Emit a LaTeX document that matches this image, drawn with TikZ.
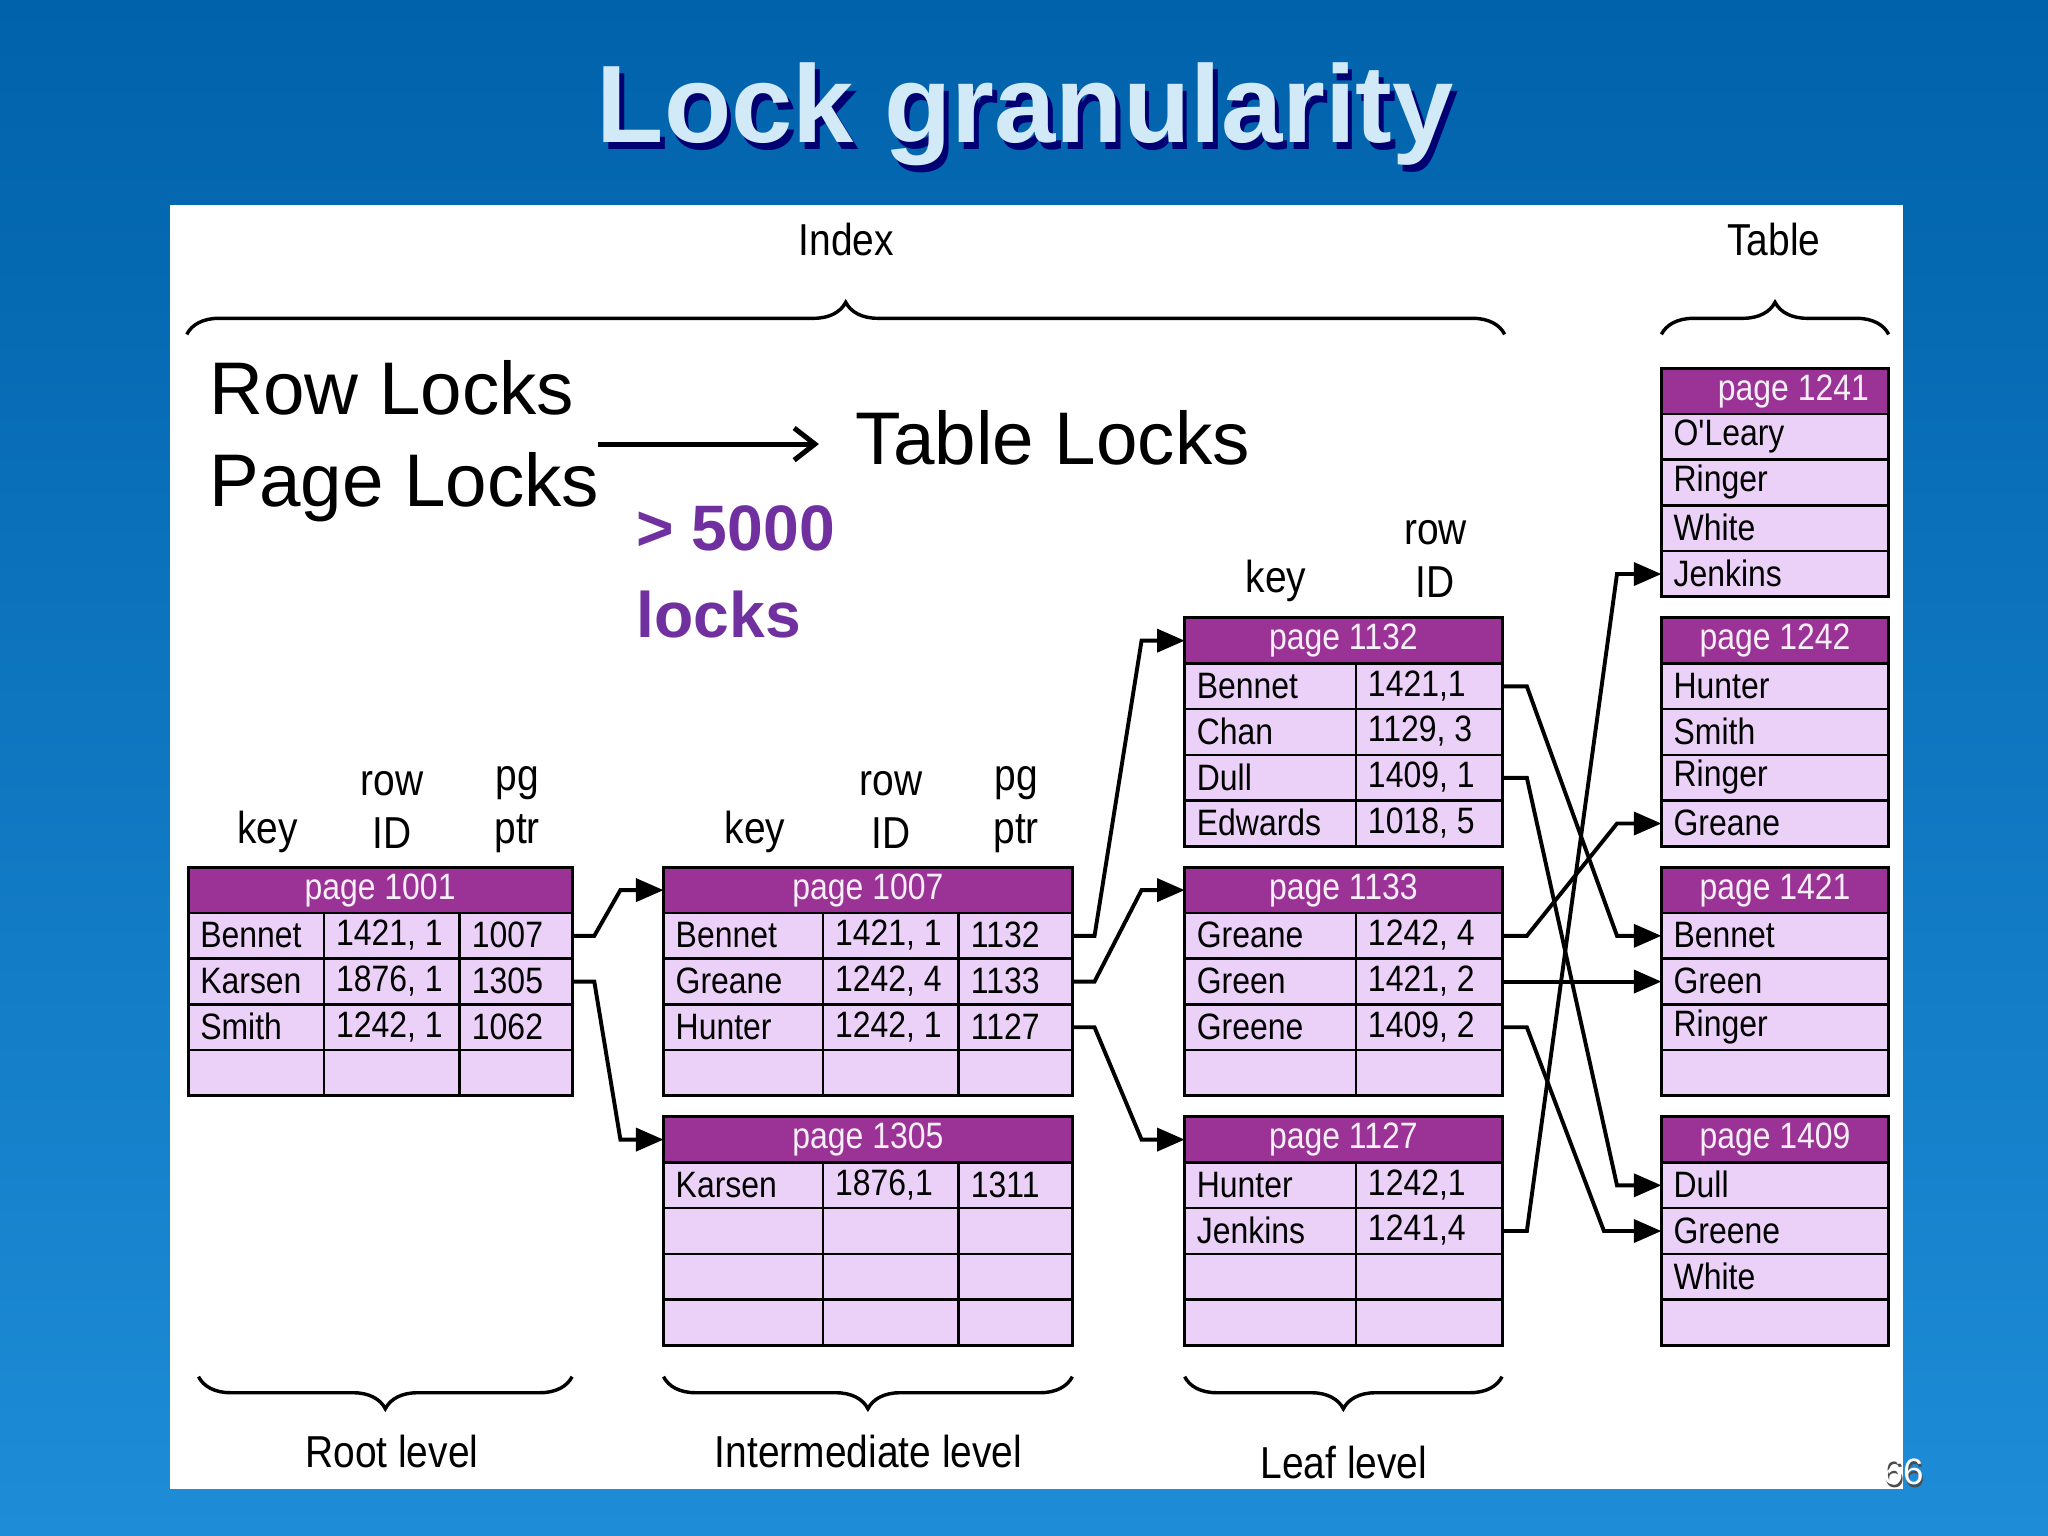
\documentclass[tikz,border=0pt]{standalone}
\usepackage{fontspec}
\setmainfont{Liberation Sans}
\newfontfamily\narrow[FakeStretch=0.87]{Liberation Sans}
\usetikzlibrary{arrows.meta,decorations.pathreplacing,calc}
\definecolor{headc}{HTML}{9B3396}
\definecolor{cellc}{HTML}{EBD0F7}
\definecolor{purp}{HTML}{7030A0}
\definecolor{titlec}{HTML}{D2EAF8}
\tikzset{
  ct/.style={font=\narrow\fontsize{16}{18}\selectfont, anchor=west, inner sep=0pt},
  lab/.style={font=\narrow\fontsize{19.5}{23}\selectfont, align=center, inner sep=0pt},
  ht/.style={font=\narrow\fontsize{16}{18}\selectfont, text=white!92!headc, inner sep=0pt},
  conn/.style={line width=1.7pt, -{Triangle[length=12pt,width=10pt]}},
  brc/.style={line width=1.5pt, decorate, decoration={brace, amplitude=14pt}},
  big/.style={font=\fontsize{32.5}{36}\selectfont, anchor=west, inner sep=0pt},
}
\newcommand\ptab[7]{% name x0 x1 innercols ytop nrows title
  \fill[cellc] (#2,#5+35) rectangle (#3,#5+35+35*#6);
  \fill[headc] (#2,#5) rectangle (#3,#5+35);
  \node[ht] (#1-t) at ({(#2+#3)/2},#5+17.5) {#7};
  \foreach \i in {1,...,#6}{
    \draw[line width=1.1pt] (#2,#5+35*\i) -- (#3,#5+35*\i);
    \coordinate (#1-l\i) at (#2,#5+17.5+35*\i);
    \coordinate (#1-r\i) at (#3,#5+17.5+35*\i);}
  \foreach \c in {#4} \draw[line width=1.1pt] (\c,#5+35) -- (\c,#5+35+35*#6);
  \draw[line width=1.3pt] (#2,#5) rectangle (#3,#5+35+35*#6);
  \coordinate (#1-h) at (#2,#5+17.5);
}
\newcommand\cel[3]{\node[ct] at (#1+9,#2) {#3};}
\begin{document}
\begin{tikzpicture}[x=0.02cm,y=-0.02cm]
\useasboundingbox (0,0) rectangle (1568,1176);
\shade[top color={rgb,255:red,0;green,98;blue,170}, bottom color={rgb,255:red,30;green,140;blue,215}] (0,0) rectangle (1568,1176);
\fill[white] (130,157) rectangle (1457,1140);
% title (shadow drawn as a copy behind)
\node (title) [font=\bfseries\fontsize{48}{52}\selectfont, text=titlec,
  preaction={}] at (785,90) {\makebox[0pt]{\hspace*{4pt}\raisebox{-3pt}{\textcolor{black!55!blue}{Lock granularity}}}\makebox[0pt]{Lock granularity}};
\node (pn) [font=\fontsize{16}{18}\selectfont, text=white] at (1457,1128) {\makebox[0pt]{\hspace*{1pt}\raisebox{-1pt}{\textcolor{black!70}{66}}}\makebox[0pt]{66}};
% braces
\node (idx) [lab] at (648,183) {Index};
\node (tab) [lab] at (1358,183) {Table};
\draw[brc] (143,256) -- (1152,256);
\draw[brc] (1272,256) -- (1446,256);
\draw[brc] (438,1054) -- (152,1054);
\draw[brc] (821,1054) -- (508,1054);
\draw[brc] (1150,1054) -- (907,1054);
\node (rl) [lab] at (300,1111) {Root level};
\node (il) [lab] at (665,1111) {Intermediate level};
\node (ll) [lab] at (1029,1120) {Leaf level};
% big text
\node (rowl) [big] at (160,297) {Row Locks};
\node (pagel) [big] at (160,373) {Page Locks};
\node (tabl) [big] at (655,335) {Table Locks};
\draw[line width=2.2pt, -{Straight Barb[length=9pt,width=14pt]}] (458,340) -- (627,340);
\node (k5) [font=\bfseries\fontsize{28}{36}\selectfont, text=purp, anchor=west, align=left, inner sep=0pt] at (487,438) {> 5000\\[2pt]locks};
% column labels
\node[lab] at (205,637) {key};
\node[lab] at (300,620) {row\\ID};
\node[lab] at (396,620) {pg\\ptr};
\node[lab] at (578,637) {key};
\node[lab] at (682,620) {row\\ID};
\node[lab] at (778,620) {pg\\ptr};
\node[lab] at (977,445) {key};
\node[lab] at (1099,428) {row\\ID};
% tables
\ptab{p1001}{144}{438}{248,352}{664}{4}{page 1001}
\cel{144}{716}{Bennet}\cel{248}{716}{1421, 1}\cel{352}{716}{1007}
\cel{144}{751}{Karsen}\cel{248}{751}{1876, 1}\cel{352}{751}{1305}
\cel{144}{786}{Smith}\cel{248}{786}{1242, 1}\cel{352}{786}{1062}
\ptab{p1007}{508}{821}{630,734}{664}{4}{page 1007}
\cel{508}{716}{Bennet}\cel{630}{716}{1421, 1}\cel{734}{716}{1132}
\cel{508}{751}{Greane}\cel{630}{751}{1242, 4}\cel{734}{751}{1133}
\cel{508}{786}{Hunter}\cel{630}{786}{1242, 1}\cel{734}{786}{1127}
\ptab{p1305}{508}{821}{630,734}{855}{4}{page 1305}
\cel{508}{907}{Karsen}\cel{630}{907}{1876,1}\cel{734}{907}{1311}
\ptab{p1132}{907}{1150}{1038}{473}{4}{page 1132}
\cel{907}{525}{Bennet}\cel{1038}{525}{1421,1}
\cel{907}{560}{Chan}\cel{1038}{560}{1129, 3}
\cel{907}{595}{Dull}\cel{1038}{595}{1409, 1}
\cel{907}{630}{Edwards}\cel{1038}{630}{1018, 5}
\ptab{p1133}{907}{1150}{1038}{664}{4}{page 1133}
\cel{907}{716}{Greane}\cel{1038}{716}{1242, 4}
\cel{907}{751}{Green}\cel{1038}{751}{1421, 2}
\cel{907}{786}{Greene}\cel{1038}{786}{1409, 2}
\ptab{p1127}{907}{1150}{1038}{855}{4}{page 1127}
\cel{907}{907}{Hunter}\cel{1038}{907}{1242,1}
\cel{907}{942}{Jenkins}\cel{1038}{942}{1241,4}
\ptab{p1241}{1272}{1446}{}{282}{4}{\quad page 1241}
\cel{1272}{334}{O'Leary}\cel{1272}{369}{Ringer}\cel{1272}{404}{White}\cel{1272}{439}{Jenkins}
\ptab{p1242}{1272}{1446}{}{473}{4}{page 1242}
\cel{1272}{525}{Hunter}\cel{1272}{560}{Smith}\cel{1272}{595}{Ringer}\cel{1272}{630}{Greane}
\ptab{p1421}{1272}{1446}{}{664}{4}{page 1421}
\cel{1272}{716}{Bennet}\cel{1272}{751}{Green}\cel{1272}{786}{Ringer}
\ptab{p1409}{1272}{1446}{}{855}{4}{page 1409}
\cel{1272}{907}{Dull}\cel{1272}{942}{Greene}\cel{1272}{977}{White}
% connectors
\draw[conn] (p1001-r1) -- ++(17,0) -- ($(p1007-h)+(-33,0)$) -- (p1007-h);
\draw[conn] (p1001-r2) -- ++(17,0) -- ($(p1305-h)+(-33,0)$) -- (p1305-h);
\draw[conn] (p1007-r1) -- ++(17,0) -- ($(p1132-h)+(-33,0)$) -- (p1132-h);
\draw[conn] (p1007-r2) -- ++(17,0) -- ($(p1133-h)+(-33,0)$) -- (p1133-h);
\draw[conn] (p1007-r3) -- ++(17,0) -- ($(p1127-h)+(-33,0)$) -- (p1127-h);
\draw[conn] (p1132-r1) -- ++(19,0) -- ($(p1421-l1)+(-34,0)$) -- (p1421-l1);
\draw[conn] (p1132-r3) -- ++(19,0) -- ($(p1409-l1)+(-34,0)$) -- (p1409-l1);
\draw[conn] (p1133-r1) -- ++(19,0) -- ($(p1242-l4)+(-34,0)$) -- (p1242-l4);
\draw[conn] (p1133-r2) -- (p1421-l2);
\draw[conn] (p1133-r3) -- ++(19,0) -- ($(p1409-l2)+(-44,0)$) -- (p1409-l2);
\draw[conn] (p1127-r2) -- ++(19,0) -- ($(p1241-l4)+(-34,0)$) -- (p1241-l4);
\end{tikzpicture}
\end{document}
